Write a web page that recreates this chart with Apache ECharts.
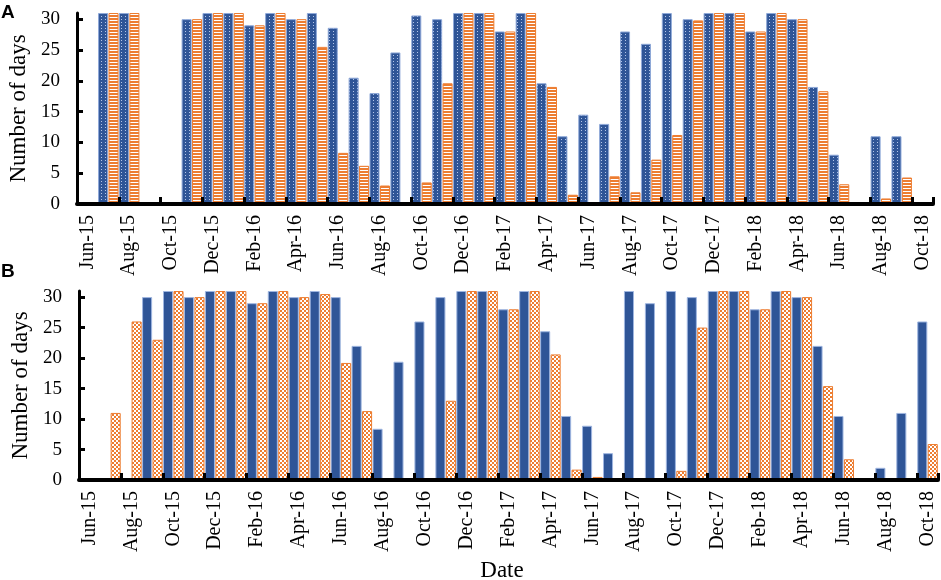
<!DOCTYPE html>
<html>
<head>
<meta charset="utf-8">
<script src="https://cdn.jsdelivr.net/npm/echarts@6/dist/echarts.min.js"></script>
<style>
html,body{margin:0;padding:0;background:#fff;}
#chart{width:941px;height:580px;}
</style>
</head>
<body>
<div id="chart"></div>
<script>
var categories = ["Jun-15","Jul-15","Aug-15","Sep-15","Oct-15","Nov-15","Dec-15",
  "Jan-16","Feb-16","Mar-16","Apr-16","May-16","Jun-16","Jul-16","Aug-16","Sep-16","Oct-16","Nov-16","Dec-16",
  "Jan-17","Feb-17","Mar-17","Apr-17","May-17","Jun-17","Jul-17","Aug-17","Sep-17","Oct-17","Nov-17","Dec-17",
  "Jan-18","Feb-18","Mar-18","Apr-18","May-18","Jun-18","Jul-18","Aug-18","Sep-18","Oct-18"];

var blueA = [0,31,31,0,0,30,31, 31,29,31,30,31,28.6,20.5,18,24.6,30.6,30,31,
  31,28,31,19.6,11,14.5,13,28,26,31,30,31, 31,28,31,30,19,8,0,11,11,0];
var orangeA = [0,31,31,0,0,30,31, 31,29,31,30,25.5,8.3,6.2,3,0,3.5,19.6,31,
  31,28,31,19,1.5,0,4.5,1.9,7.2,11.2,29.8,31, 31,28,31,30,18.3,3.2,0,0.9,4.3,0];
var blueB = [0,0,0,30,31,30,31, 31,29,31,30,31,30,22,8.4,19.4,26,30,31,
  31,28,31,24.4,10.5,8.9,4.4,31,29,31,30,31, 31,28,31,30,22,10.5,0,2,11,26];
var orangeB = [0,11,26,23,31,30,31, 31,29,31,30,30.5,19.2,11.3,0,0,0,13,31,
  31,28,31,20.6,1.7,0.5,0,0,0,1.5,25,31, 31,28,31,30,15.4,3.4,0,0,0,5.9];
var yTicks = [0,5,10,15,20,25,30];

var BLUE = '#2F5597', ORANGE = '#ED7D31';

function tile(w, h, draw) {
  var c = document.createElement('canvas');
  c.width = w; c.height = h;
  draw(c.getContext('2d'));
  return c;
}
var dotTile = tile(4, 3, function (g) {
  g.fillStyle = BLUE; g.fillRect(0, 0, 4, 3);
  g.fillStyle = '#b3c5e8'; g.fillRect(1, 1, 1, 1);
});
var stripeTile = tile(4, 3, function (g) {
  g.fillStyle = ORANGE; g.fillRect(0, 0, 4, 3);
  g.fillStyle = '#ffffff'; g.fillRect(0, 2, 4, 1);
});
var checkTile = tile(4, 4, function (g) {
  g.fillStyle = ORANGE; g.fillRect(0, 0, 4, 4);
  g.fillStyle = '#ffffff'; g.fillRect(0, 0, 2, 2); g.fillRect(2, 2, 2, 2);
});

var serif = "'Liberation Serif','Times New Roman',serif";

function xAxis(idx) {
  return {
    type: 'category', gridIndex: idx, data: categories, z: 10,
    axisLine: {lineStyle: {color: '#000', width: 4}},
    axisTick: {show: true, inside: true, length: 7, interval: 1, lineStyle: {color: '#000', width: 3}},
    axisLabel: {interval: 1, rotate: 90, margin: 11, color: '#000', fontSize: 20, fontFamily: serif},
    splitLine: {show: false}
  };
}
function yAxis(idx) {
  return {
    type: 'value', gridIndex: idx, min: 0, max: 31, z: 10,
    name: 'Number of days', nameLocation: 'middle', nameGap: 36, nameRotate: 90,
    nameTextStyle: {color: '#000', fontSize: 23, fontFamily: serif},
    axisLine: {show: true, lineStyle: {color: '#000', width: 3}},
    axisTick: {show: true, inside: true, length: 6, customValues: yTicks, lineStyle: {color: '#000', width: 3}},
    axisLabel: {customValues: yTicks, margin: 17, color: '#000', fontSize: 19, fontFamily: serif},
    splitLine: {show: false}
  };
}
function bar(name, data, idx, fill, border) {
  return {
    type: 'bar', name: name, xAxisIndex: idx, yAxisIndex: idx,
    data: data.map(function (v) { return v === 0 ? '-' : v; }),
    barGap: '4%', barCategoryGap: '2%',
    itemStyle: {color: fill, borderColor: border, borderWidth: 1},
    emphasis: {disabled: true}, animation: false
  };
}

var chart = echarts.init(document.getElementById('chart'), null, {renderer: 'canvas'});
chart.setOption({
  animation: false,
  grid: [
    {left: 77, top: 13, width: 856, height: 191, containLabel: false, outerBoundsMode: 'none'},
    {left: 79, top: 291, width: 859, height: 189, containLabel: false, outerBoundsMode: 'none'}
  ],
  xAxis: [xAxis(0), xAxis(1)],
  yAxis: [yAxis(0), yAxis(1)],
  graphic: [
    {type: 'text', left: 1, top: 3, style: {text: 'A', font: "bold 19px 'Liberation Sans', Arial, sans-serif", fill: '#000'}},
    {type: 'text', left: 1, top: 262, style: {text: 'B', font: "bold 19px 'Liberation Sans', Arial, sans-serif", fill: '#000'}},
    {type: 'text', x: 502, y: 571, style: {text: 'Date', font: "23px 'Liberation Serif', 'Times New Roman', serif", fill: '#000', align: 'center', verticalAlign: 'middle'}}
  ],
  series: [
    bar('Blue A', blueA, 0, {image: dotTile, repeat: 'repeat'}, '#8ea8d8'),
    bar('Orange A', orangeA, 0, {image: stripeTile, repeat: 'repeat'}, ORANGE),
    bar('Blue B', blueB, 1, BLUE, '#9fb6e0'),
    bar('Orange B', orangeB, 1, {image: checkTile, repeat: 'repeat'}, ORANGE)
  ]
});
</script>
</body>
</html>
